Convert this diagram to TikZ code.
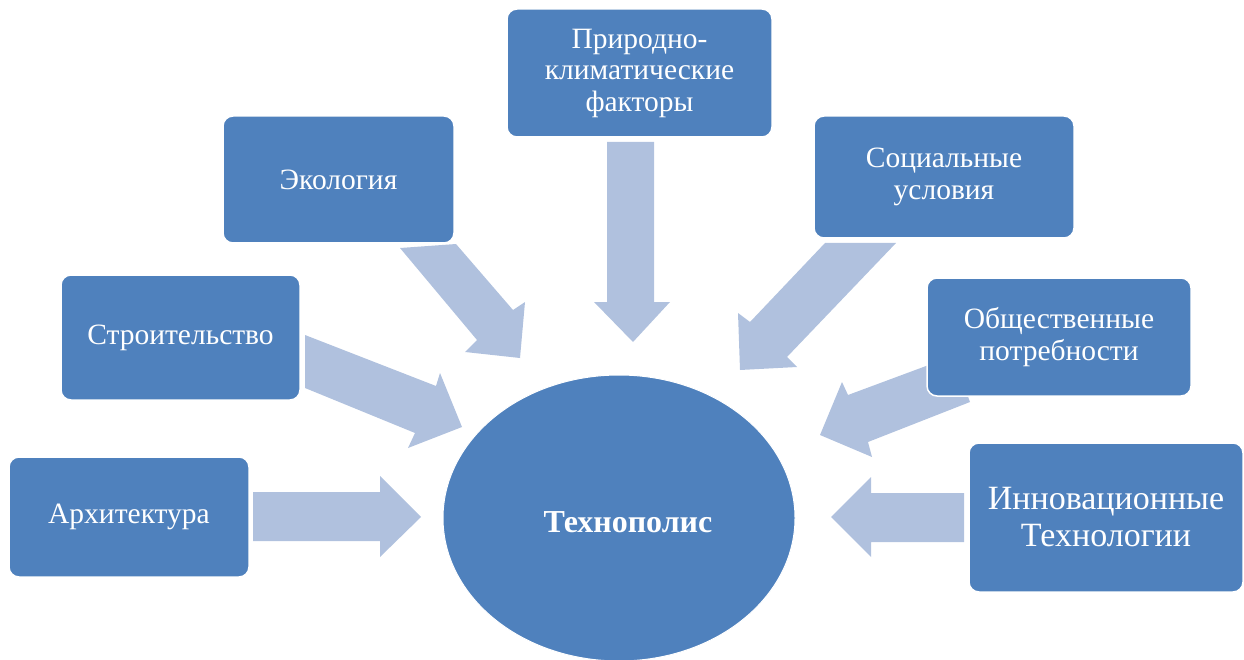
\documentclass[tikz,border=0pt]{standalone}
\usepackage{fontspec}
\setmainfont{Liberation Serif}
\usetikzlibrary{shapes.geometric}
\definecolor{boxblue}{RGB}{79,129,189}
\definecolor{arrowblue}{RGB}{176,193,222}
\tikzset{
  factor/.style={draw=white, line width=1.5pt, fill=boxblue, rounded corners=10pt,
    inner sep=0pt, outer sep=0pt, align=center, text=white,
    font=\fontsize{29.5}{31.5}\selectfont},
  hub/.style={ellipse, fill=boxblue, draw=white, line width=1pt, inner sep=0pt,
    text=white, font=\fontsize{32}{36}\selectfont\bfseries},
  blockarrow/.style={fill=arrowblue, draw=none}
}
\begin{document}
\begin{tikzpicture}[x=1pt,y=-1pt]
\path[use as bounding box] (0,0) rectangle (1244,660);
% block arrows
\fill[blockarrow] (253,492) -- (380,492) -- (380,476) -- (421,517) -- (380,557) -- (380,541) -- (253,541) -- cycle;
\fill[blockarrow] (305,335) -- (436,386) -- (440,373) -- (462,427) -- (408,448) -- (415,433) -- (305,388) -- cycle;
\fill[blockarrow] (400,248) -- (456,244) -- (513,310) -- (525,302) -- (520,358) -- (465,352) -- (477,340) -- cycle;
\fill[blockarrow] (607,142) -- (654,142) -- (654,302) -- (670,302) -- (633,342) -- (594,302) -- (607,302) -- cycle;
\fill[blockarrow] (825,243) -- (896,243) -- (787,357) -- (797,367) -- (740,370) -- (738,313) -- (750,322) -- cycle;
\fill[blockarrow] (953,356) -- (848,395) -- (842,382) -- (820,435) -- (872,457) -- (868,442) -- (970,402) -- cycle;
\fill[blockarrow] (964,493) -- (871,493) -- (871,477) -- (831,517) -- (871,557) -- (871,542) -- (964,542) -- cycle;
% nodes
\node[hub, minimum width=352pt, minimum height=286pt] (hub) at (619,518) {};
\node[text=white, font=\fontsize{32}{36}\selectfont\bfseries] (hubtext) at (628,522) {Технополис};
\node[factor, minimum width=240pt, minimum height=120pt] (arch) at (129,517) {Архитектура};
\node[factor, minimum width=239pt, minimum height=125pt] (stroi) at (180.5,337.5) {Строительство};
\node[factor, minimum width=231pt, minimum height=127pt] (eco) at (338.5,179.5) {Экология};
\node[factor, minimum width=265pt, minimum height=128pt] (prir) at (639.5,73) {Природно-\\климатические\\факторы};
\node[factor, minimum width=260pt, minimum height=122pt] (soc) at (944,177) {Социальные\\условия};
\node[factor, minimum width=264pt, minimum height=118pt] (obsh) at (1059,337) {Общественные\\потребности};
\node[factor, minimum width=274pt, minimum height=149pt, font=\fontsize{34}{37}\selectfont] (innov) at (1106,517.5) {Инновационные\\Технологии};
\end{tikzpicture}
\end{document}
